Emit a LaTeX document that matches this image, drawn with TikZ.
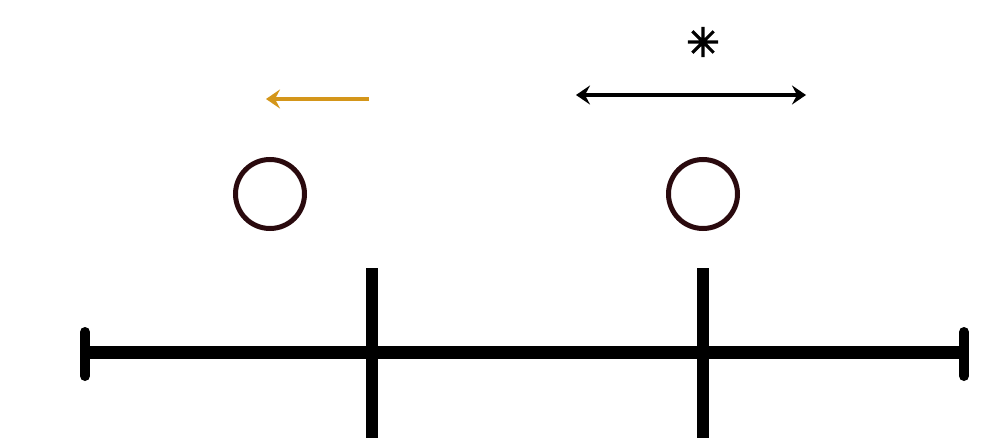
\documentclass[tikz,border=0pt]{standalone}
\usepackage{fontspec}
\newfontfamily\symfont[FakeBold=3]{DejaVu Sans}
\usetikzlibrary{arrows.meta}
\definecolor{ringcol}{HTML}{2A0A0E}
\definecolor{arrowor}{HTML}{D4961A}
\tikzset{
  ring/.style={circle, draw=ringcol, line width=5pt, minimum size=69pt, inner sep=0pt},
  axisline/.style={line width=13pt},
  endcap/.style={line width=10pt, line cap=round},
  tickline/.style={line width=12pt},
  tipstyle/.style={Stealth[length=14pt,width=19pt,inset=5pt]},
  motion/.style={line width=4pt, -{Stealth[length=14pt,width=19pt,inset=5pt]}},
  both/.style={line width=4pt, {Stealth[length=14pt,width=19pt,inset=5pt]}-{Stealth[length=14pt,width=19pt,inset=5pt]}}
}
\begin{document}
\begin{tikzpicture}[x=1pt,y=-1pt]
\useasboundingbox (0,0) rectangle (996,444);
% axis
\coordinate (L) at (85,352);
\coordinate (R) at (964,352);
\coordinate (Lt) at (85,332);
\coordinate (Lb) at (85,376);
\coordinate (Rt) at (964,332);
\coordinate (Rb) at (964,376);
\coordinate (T1t) at (372,268);
\coordinate (T1b) at (372,438);
\coordinate (T2t) at (703,268);
\coordinate (T2b) at (703,438);
\draw[axisline] (L) -- (R);
\draw[endcap] (Lt) -- (Lb);
\draw[endcap] (Rt) -- (Rb);
\draw[tickline] (T1t) -- (T1b);
\draw[tickline] (T2t) -- (T2b);
% particles
\node[ring] (p1) at (270,194) {};
\node[ring] (p2) at (703,194) {};
% arrows
\coordinate (a1s) at (369,99);
\coordinate (a1e) at (266,99);
\draw[motion, draw=arrowor, color=arrowor] (a1s) -- (a1e);
\coordinate (a2s) at (576,95);
\coordinate (a2e) at (806,95);
\draw[both] (a2s) -- (a2e);
\node[font=\symfont\fontsize{40}{40}\selectfont, inner sep=0pt] (star) at (703,42) {✳};
\end{tikzpicture}
\end{document}
